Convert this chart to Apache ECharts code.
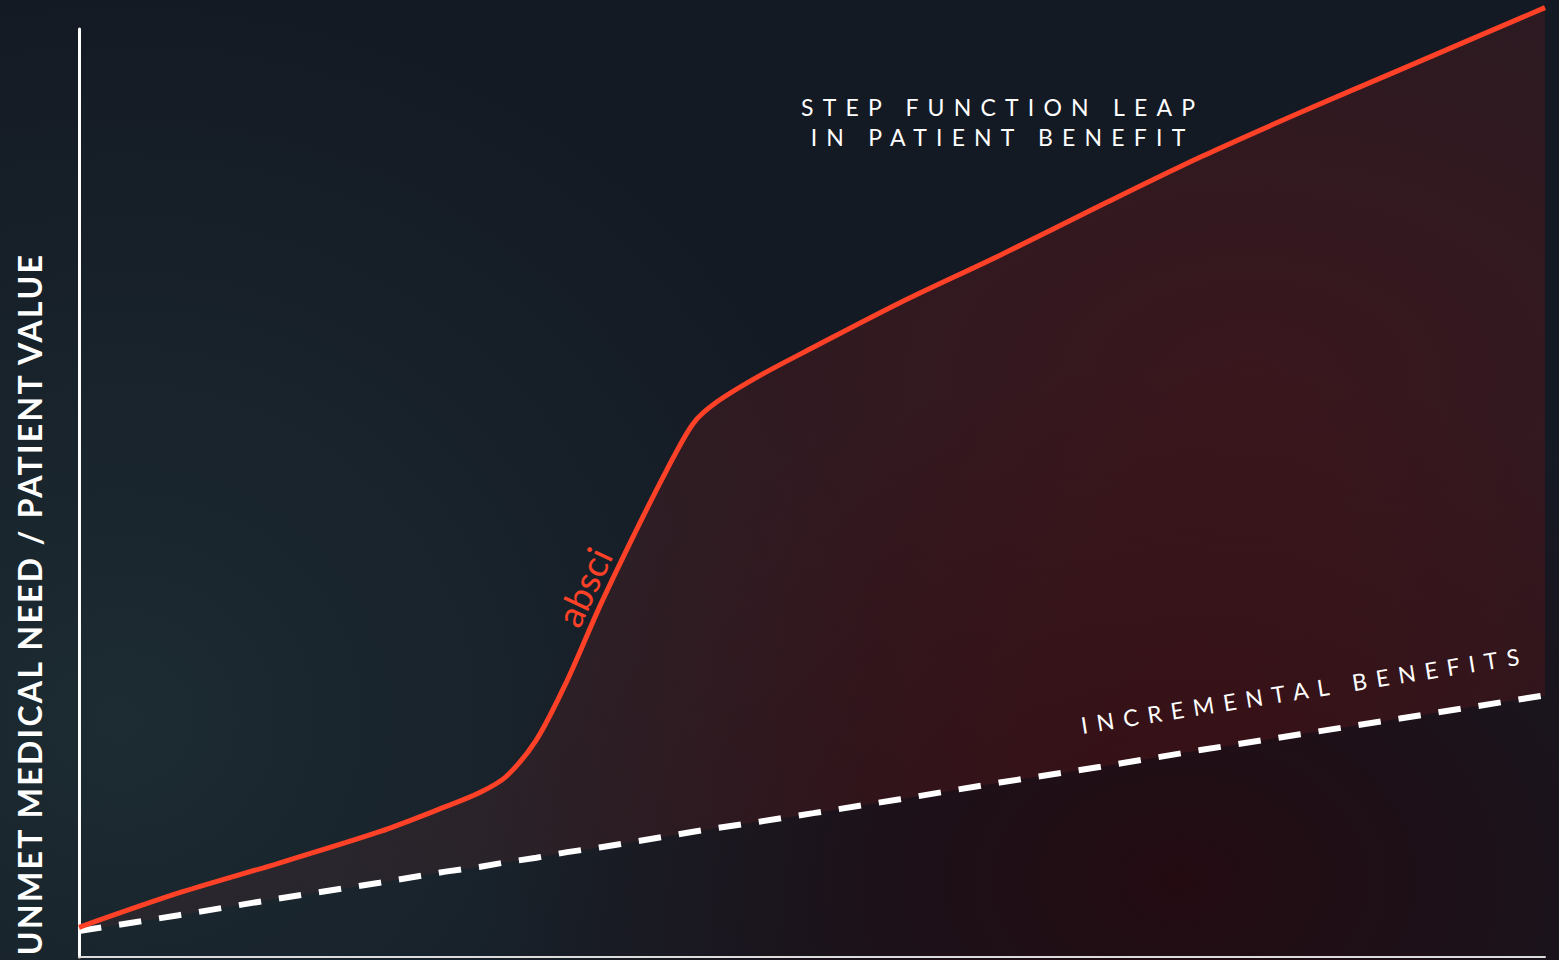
<!DOCTYPE html>
<html>
<head>
<meta charset="utf-8">
<script src="https://cdn.jsdelivr.net/npm/echarts@6/dist/echarts.min.js"></script>
<style>
html,body{margin:0;padding:0;width:1559px;height:960px;overflow:hidden;}
body{
  background:
    radial-gradient(ellipse 700px 520px at 1180px 880px, rgba(38,8,14,0.85), rgba(38,8,14,0) 100%),
    radial-gradient(ellipse 760px 720px at 120px 720px, rgba(30,46,52,0.85), rgba(30,46,52,0) 100%),
    #141a24;
}
#chart{width:1559px;height:960px;}
#chart text[style*="23px"]{letter-spacing:9.2px;}
#chart text[style*="32px"]{letter-spacing:2.3px;}
</style>
</head>
<body>
<div id="chart"></div>
<script>
// progress / time (0..100)
const xValues = [0, 6.8, 13.6, 20.5, 25.0, 27.3, 29.1, 31.2, 33.3, 35.5, 37.8, 40.1, 41.9, 43.5, 46.5, 50.1, 56.0, 62.8, 69.7, 76.5, 83.3, 90.1, 100];
// step function leap curve (absci)
const stepBenefit = [3.2, 6.9, 10.1, 13.5, 16.2, 17.7, 19.4, 23.4, 29.8, 37.7, 45.3, 52.5, 57.5, 59.8, 62.7, 65.7, 70.5, 75.6, 81.0, 86.2, 91.0, 95.6, 102.3];
// incremental benefits (dashed), read at the same x positions
const incrementalBenefit = [2.8, 4.5, 6.3, 8.0, 9.2, 9.7, 10.2, 10.7, 11.3, 11.8, 12.4, 13.0, 13.5, 13.9, 14.6, 15.5, 17.0, 18.8, 20.5, 22.3, 24.0, 25.7, 28.2];

const yAxisTitle = 'UNMET MEDICAL NEED / PATIENT VALUE';
const leapLabel = 'STEP FUNCTION LEAP\nIN PATIENT BENEFIT';
const incrementalLabel = 'INCREMENTAL BENEFITS';
const curveLabel = 'absci';

const RED = '#ff4127';

const dashedData = xValues.map((x, i) => [x, incrementalBenefit[i]]);
const gapData = xValues.map((x, i) => [x, +(stepBenefit[i] - incrementalBenefit[i]).toFixed(2)]);
const redData = xValues.map((x, i) => [x, stepBenefit[i]]);

const chart = echarts.init(document.getElementById('chart'), null, {renderer: 'svg'});
chart.setOption({
  backgroundColor: 'transparent',
  animation: false,
  grid: {left: 79, right: 14, top: 29, bottom: 3},
  xAxis: {
    type: 'time', min: 0, max: 100,
    axisLine: {show: true, lineStyle: {color: '#dcdcdc', width: 2}},
    axisTick: {show: false}, axisLabel: {show: false}, splitLine: {show: false}
  },
  yAxis: {
    type: 'value', min: 0, max: 100,
    name: yAxisTitle,
    nameLocation: 'middle',
    nameRotate: 90,
    nameGap: 34,
    nameTextStyle: {
      color: '#ffffff', fontFamily: 'Lato', fontWeight: 'bold', fontSize: 32,
      padding: [0, 222, 0, 0]
    },
    axisLine: {show: true, lineStyle: {color: '#ffffff', width: 3}},
    axisTick: {show: false}, axisLabel: {show: false}, splitLine: {show: false}
  },
  series: [
    {
      name: 'Incremental benefits',
      type: 'line',
      stack: 'benefit',
      data: dashedData,
      showSymbol: false,
      silent: true,
      z: 3,
      clip: false,
      lineStyle: {color: '#ffffff', width: 6, type: [22.5, 18], cap: 'butt'},
      markPoint: {
        symbol: 'circle', symbolSize: 0, silent: true,
        data: [{
          coord: [83.6, 28.8], value: incrementalLabel,
          label: {
            show: true, position: 'inside', formatter: incrementalLabel, rotate: 9,
            color: '#ffffff', fontFamily: 'Lato', fontSize: 23
          }
        }]
      }
    },
    {
      name: 'Gap',
      type: 'line',
      stack: 'benefit',
      data: gapData,
      smooth: 0.3,
      showSymbol: false,
      silent: true,
      z: 1,
      clip: false,
      lineStyle: {width: 0, opacity: 0},
      areaStyle: {
        color: {
          type: 'radial', x: 0.8, y: 0.4, r: 0.85,
          colorStops: [
            {offset: 0, color: 'rgba(125,14,14,0.50)'},
            {offset: 0.6, color: 'rgba(120,28,28,0.32)'},
            {offset: 1, color: 'rgba(120,40,40,0.22)'}
          ]
        }
      }
    },
    {
      name: 'Step function leap',
      type: 'line',
      data: redData,
      smooth: 0.3,
      showSymbol: false,
      silent: true,
      z: 4,
      clip: false,
      lineStyle: {color: RED, width: 5},
      markPoint: {
        symbol: 'circle', symbolSize: 0, silent: true,
        data: [
          {
            coord: [34.4, 39.9], value: curveLabel,
            label: {
              show: true, position: 'inside', formatter: curveLabel, rotate: 65,
              color: RED, fontFamily: 'Lato', fontWeight: 'normal', fontSize: 37
            }
          },
          {
            coord: [63.0, 90.0], value: leapLabel,
            label: {
              show: true, position: 'inside', formatter: leapLabel,
              color: '#ffffff', fontFamily: 'Lato', fontSize: 23, lineHeight: 30, align: 'center'
            }
          }
        ]
      }
    }
  ]
});
</script>
</body>
</html>
